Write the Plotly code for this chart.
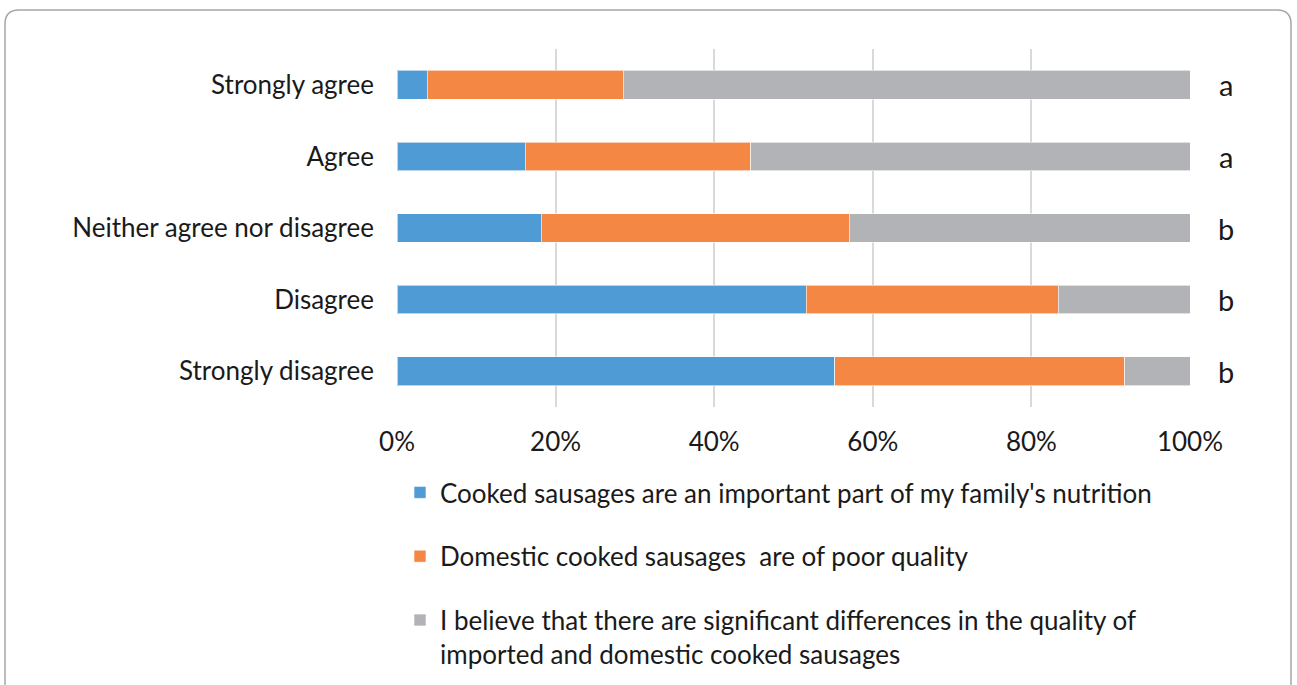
import plotly.graph_objects as go

# Response categories (top to bottom) and share of each statement (%)
categories = ["Strongly agree", "Agree", "Neither agree nor disagree", "Disagree", "Strongly disagree"]
nutrition = [3.8, 16.2, 18.2, 51.6, 55.2]
poor_quality = [24.7, 28.4, 38.8, 31.8, 36.6]
differences = [71.5, 55.4, 43.0, 16.6, 8.2]
group_letters = ["a", "a", "b", "b", "b"]

series_names = [
    "Cooked sausages are an important part of my family's nutrition",
    "Domestic cooked sausages  are of poor quality",
    "I believe that there are significant differences in the quality of<br>imported and domestic cooked sausages",
]
series_values = [nutrition, poor_quality, differences]
series_colors = ["#4F9BD5", "#F48744", "#B2B3B6"]

W, H = 1297, 685
L, R, T, B = 397, 1190, 49, 407  # plot area in pixels

FONT = "Lato"
TEXT = "#1a1a1a"
FS = 26

fig = go.Figure()
for i, (name, vals, col) in enumerate(zip(series_names, series_values, series_colors)):
    fig.add_trace(go.Bar(
        y=categories, x=vals, name=name, orientation="h",
        marker=dict(color=col, line=dict(color="rgba(255,255,255,0.6)", width=1)),
        width=0.4, legendgroup=str(i), hoverinfo="skip",
    ))

# Letters marking homogeneous groups
for cat, letter in zip(categories, group_letters):
    fig.add_annotation(
        x=1.0 + (1226 - R) / (R - L), xref="paper", y=cat, yref="y",
        text=letter, showarrow=False, xanchor="center", yanchor="middle",
        font=dict(family=FONT, size=29, color=TEXT),
    )

# Rounded outer frame (open at the bottom)
def px(x):
    return (x - L) / (R - L)

def py(y):
    return (B - y) / (B - T)

x0, x1, y0, y1, r = 5, 1291, 10, 700, 14
path = (
    f"M {px(x0)},{py(y1)} L {px(x0)},{py(y0 + r)} "
    f"Q {px(x0)},{py(y0)} {px(x0 + r)},{py(y0)} "
    f"L {px(x1 - r)},{py(y0)} "
    f"Q {px(x1)},{py(y0)} {px(x1)},{py(y0 + r)} "
    f"L {px(x1)},{py(y1)}"
)
fig.add_shape(type="path", path=path, xref="paper", yref="paper",
              line=dict(color="#A6A6A6", width=1.5), layer="below")

fig.update_layout(
    width=W, height=H,
    margin=dict(l=L, r=W - R, t=T, b=H - B, pad=0, autoexpand=False),
    barmode="stack", bargap=0.6,
    plot_bgcolor="white", paper_bgcolor="white",
    font=dict(family=FONT, size=FS, color=TEXT),
    xaxis=dict(
        range=[0, 100], tickvals=[0, 20, 40, 60, 80, 100],
        ticktext=["0%", "20%", "40%", "60%", "80%", "100%"],
        showgrid=True, gridcolor="#D9D9D9", gridwidth=2,
        zeroline=False, showline=False, ticks="", ticklabelstandoff=17,
        tickfont=dict(family=FONT, size=FS, color=TEXT),
    ),
    yaxis=dict(
        categoryorder="array", categoryarray=categories, autorange="reversed",
        showgrid=False, zeroline=False, showline=False, ticks="",
        ticklabelstandoff=22,
        tickfont=dict(family=FONT, size=FS, color=TEXT),
    ),
    legend=dict(
        x=px(400), y=py(469), xanchor="left", yanchor="top",
        orientation="v", traceorder="grouped", tracegroupgap=27,
        valign="top",
        font=dict(family=FONT, size=FS, color=TEXT),
        bgcolor="rgba(0,0,0,0)",
    ),
    showlegend=True,
)

fig.write_html("out.html")
